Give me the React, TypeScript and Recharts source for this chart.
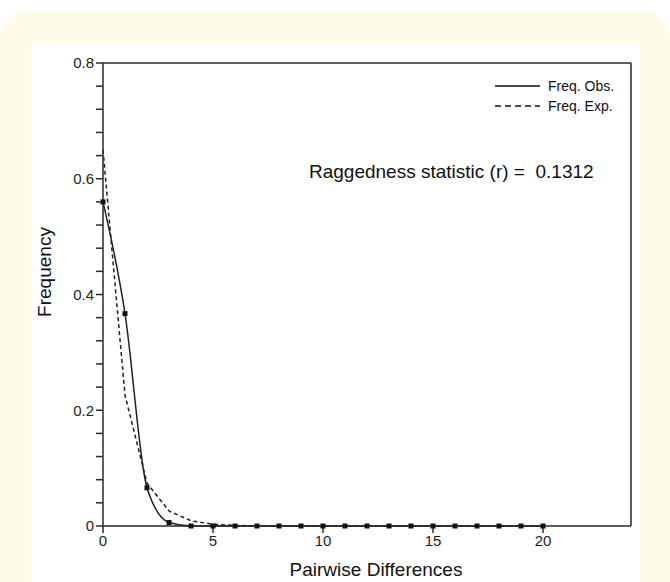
import React from "react";
import {
  LineChart,
  Line,
  XAxis,
  YAxis,
  ReferenceLine,
} from "recharts";

const diffs = [0, 1, 2, 3, 4, 5, 6, 7, 8, 9, 10, 11, 12, 13, 14, 15, 16, 17, 18, 19, 20];
const freqObs = [0.56, 0.367, 0.066, 0.006, 0, 0, 0, 0, 0, 0, 0, 0, 0, 0, 0, 0, 0, 0, 0, 0, 0];
const freqExp = [0.65, 0.226, 0.074, 0.026, 0.009, 0.003, 0.001, 0, 0, 0, 0, 0, 0, 0, 0, 0, 0, 0, 0, 0, 0];

const xTicks = [0, 5, 10, 15, 20];
const yTicks = [0, 0.04, 0.08, 0.12, 0.16, 0.2, 0.24, 0.28, 0.32, 0.36, 0.4, 0.44, 0.48, 0.52, 0.56, 0.6, 0.64, 0.68, 0.72, 0.76, 0.8];
const yLabels = [0, 0.2, 0.4, 0.6, 0.8];

const seriesNames = ["Freq. Obs.", "Freq. Exp."];
const statText = "Raggedness statistic (r) =  0.1312";

const data = diffs.map((d, i) => ({ d, obs: freqObs[i], exp: freqExp[i] }));

const FONT = "'Liberation Sans', Arial, Helvetica, sans-serif";
const INK = "#1e1e1e";

const fmtY = (v: number) => {
  const m = yLabels.find((t) => Math.abs(t - v) < 1e-9);
  if (m === undefined) return "";
  return m === 0 ? "0" : m.toFixed(1);
};

const SquareDot = (props: any) => {
  const { cx, cy, index } = props;
  if (cx == null || cy == null) return <g key={index} />;
  return <rect key={index} x={cx - 2.5} y={cy - 2.5} width={5} height={5} fill="#111" />;
};

const LegendBox = () => (
  <div style={{ position: "absolute", left: 495, top: 76, fontFamily: FONT, fontSize: 14, color: "#111" }}>
    {seriesNames.map((name, i) => (
      <div key={name} style={{ display: "flex", alignItems: "center", height: 20 }}>
        <svg width={45} height={10}>
          <line
            x1={0}
            x2={45}
            y1={5}
            y2={5}
            stroke="#111"
            strokeWidth={1.5}
            strokeDasharray={i === 1 ? "6 4" : undefined}
          />
        </svg>
        <span style={{ marginLeft: 8 }}>{name}</span>
      </div>
    ))}
  </div>
);

export default function App() {
  return (
    <div style={{ position: "absolute", left: 0, top: 0, width: 670, height: 582, background: "#fff", overflow: "hidden" }}>
      {/* cream card + white panel behind the chart */}
      <div
        style={{
          position: "absolute",
          left: 0,
          top: 10,
          width: 670,
          height: 580,
          background: "#fffbe9",
          borderTopLeftRadius: 30,
          borderTopRightRadius: 30,
        }}
      />
      <div style={{ position: "absolute", left: 31, top: 44, width: 609, height: 540, background: "#fff" }} />

      <div style={{ position: "absolute", left: 0, top: 0 }}>
        <LineChart width={670} height={582} data={data} margin={{ top: 63, right: 39, bottom: 0, left: 0 }}>
          <XAxis
            dataKey="d"
            type="number"
            domain={[0, 24]}
            ticks={xTicks}
            interval={0}
            height={56}
            tickSize={7}
            stroke="#2a2a2a"
            strokeWidth={1.5}
            tick={{ fill: INK, fontSize: 15, fontFamily: FONT }}
          />
          <YAxis
            type="number"
            domain={[0, 0.8]}
            ticks={yTicks}
            interval={0}
            width={103}
            tickSize={7}
            stroke="#2a2a2a"
            strokeWidth={1.5}
            tickFormatter={fmtY}
            tick={{ fill: INK, fontSize: 15, fontFamily: FONT }}
          />
          <ReferenceLine y={0.8} stroke="#2a2a2a" strokeWidth={1.5} />
          <ReferenceLine x={24} stroke="#2a2a2a" strokeWidth={1.5} />
          <Line
            type="linear"
            dataKey="exp"
            name={seriesNames[1]}
            stroke="#222"
            strokeWidth={1.5}
            strokeDasharray="4 3"
            dot={false}
            isAnimationActive={false}
          />
          <Line
            type="monotone"
            dataKey="obs"
            name={seriesNames[0]}
            stroke="#222"
            strokeWidth={1.5}
            dot={<SquareDot />}
            isAnimationActive={false}
          />
        </LineChart>
      </div>

      <LegendBox />

      <svg
        width={670}
        height={582}
        style={{ position: "absolute", left: 0, top: 0, pointerEvents: "none" }}
        fontFamily={FONT}
        fill="#111"
      >
        <text x={309} y={178} fontSize={19} style={{ whiteSpace: "pre" }}>
          {statText}
        </text>
        <text x={376} y={576} fontSize={19} textAnchor="middle">
          Pairwise Differences
        </text>
        <text x={51} y={272} fontSize={19} textAnchor="middle" transform="rotate(-90, 51, 272)">
          Frequency
        </text>
      </svg>
    </div>
  );
}
